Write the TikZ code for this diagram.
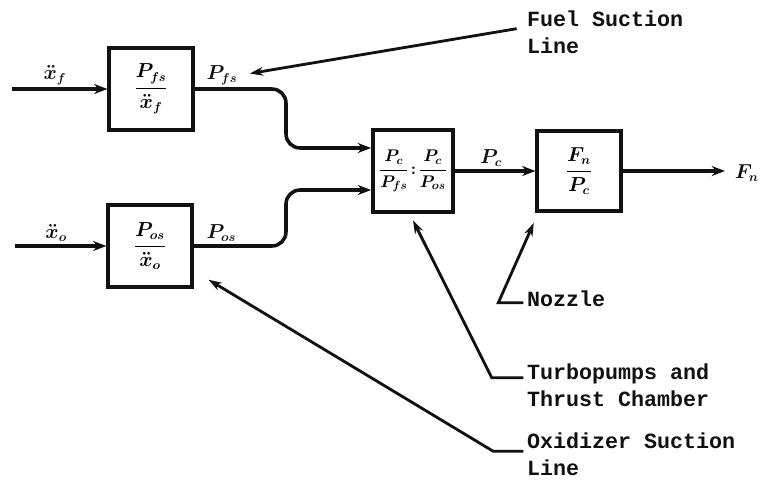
\documentclass[tikz,border=0pt]{standalone}
\usepackage{fontspec}
\setmonofont{Liberation Mono}
\usepackage{tikz}
\usepackage{xcolor}
\usetikzlibrary{
    arrows.meta,
    positioning,
    calc
}
\definecolor{ink}{HTML}{111111}
\tikzset{
    % Transfer function block
    block/.style={
        rectangle,
        minimum width=2.5cm,
        minimum height=2.45cm,
        align=center,
        font=\fontsize{16}{19}\selectfont\boldmath,
        draw=ink,
        line width=3.2pt
    },
    % Signal arrows
    flow/.style={
        -{Stealth[length=4mm, width=3mm]},
        line width=3pt,
        color=ink,
        rounded corners=12pt
    },
    % Leader lines to the notes
    leader/.style={
        -{Stealth[length=4mm, width=2.6mm]},
        line width=2.4pt,
        color=ink
    },
    % Signal label style
    signal/.style={
        font=\fontsize{16}{19}\selectfont\boldmath,
        text=ink,
        inner sep=2pt
    },
    % Note text style
    note/.style={
        font=\fontsize{18.5}{23}\selectfont\ttfamily\bfseries,
        text=ink,
        align=left,
        anchor=west,
        inner sep=3pt
    }
}
\begin{document}
\begin{tikzpicture}
        \useasboundingbox (0,0) rectangle (23.13,-14.46);

        % Blocks
        \node[block] (fuelline) at (4.53,-2.67) {$\displaystyle\frac{P_{fs}}{\ddot{x}_f}$};
        \node[block] (oxline) at (4.5,-7.38) {$\displaystyle\frac{P_{os}}{\ddot{x}_o}$};
        \node[block, minimum width=2.4cm, font=\fontsize{14}{17}\selectfont\boldmath] (pumps) at (12.39,-5.13) {$\displaystyle\frac{P_c}{P_{fs}}\!:\!\frac{P_c}{P_{os}}$};
        \node[block, minimum height=2.4cm] (nozzle) at (17.37,-5.13) {$\displaystyle\frac{F_n}{P_c}$};

        % Inputs and output
        \coordinate (fuelin) at (0.36,-2.67);
        \coordinate (oxin) at (0.45,-7.38);
        \coordinate (thrust) at (21.75,-5.13);
        \node[signal] (fn) at (22.4,-5.2) {$F_n$};

        % Notes
        \node[note] (fuelnote) at (15.7,-0.96) {Fuel Suction\\Line};
        \node[note] (nozzlenote) at (15.7,-8.96) {Nozzle};
        \node[note] (pumpsnote) at (15.7,-11.55) {Turbopumps and\\Thrust Chamber};
        \node[note] (oxnote) at (15.7,-13.62) {Oxidizer Suction\\Line};

        % Signal flow
        \draw[flow] (fuelin) -- node[signal, above, pos=0.45] (xf) {$\ddot{x}_f$} (fuelline.west);
        \draw[flow] (oxin) -- node[signal, above, pos=0.45] (xo) {$\ddot{x}_o$} (oxline.west);
        \draw[flow] (fuelline.east) -- node[signal, above, pos=0.3] (pfs) {$P_{fs}$} (8.58,-2.67) |- ([yshift=0.69cm]pumps.west);
        \draw[flow] (oxline.east) -- node[signal, above, pos=0.3] (pos) {$P_{os}$} (8.58,-7.38) |- ([yshift=-0.57cm]pumps.west);
        \draw[flow] (pumps.east) -- node[signal, above, pos=0.45] (pc) {$P_c$} (nozzle.west);
        \draw[flow] (nozzle.east) -- (thrust);

        % Leaders
        \draw[leader] ([xshift=-0.2cm,yshift=0.1cm]fuelnote.west) -- ([xshift=0.25cm,yshift=0.05cm]pfs.east);
        \draw[leader] ([yshift=-0.12cm]nozzlenote.west) -- ++(-0.75,0) -- ([xshift=-0.05cm,yshift=-0.3cm]nozzle.south west);
        \draw[leader] ([yshift=0.22cm]pumpsnote.west) -- ++(-0.95,0) -- ([yshift=-0.2cm]pumps.south);
        \draw[leader] ([yshift=0.08cm]oxnote.west) -- ++(-0.9,0) -- ([shift={(0.45,0.27)}]oxline.south east);

    \end{tikzpicture}
\end{document}
